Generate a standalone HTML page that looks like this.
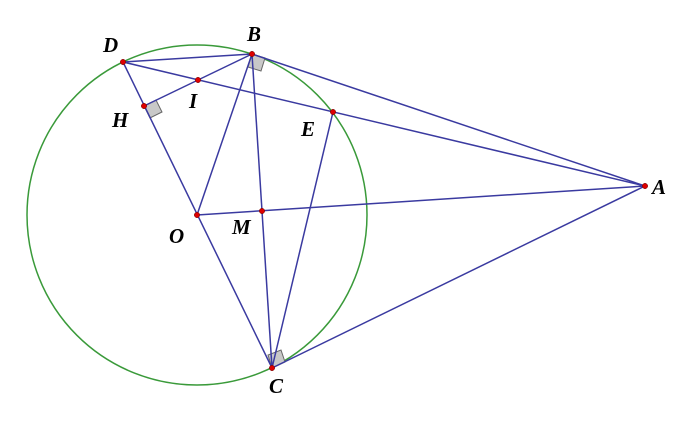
<!DOCTYPE html>
<html><head><style>body{margin:0;background:#fff}</style></head><body>
<svg width="700" height="421" xmlns="http://www.w3.org/2000/svg">
<circle cx="197" cy="215" r="170" fill="none" stroke="#3a9a3a" stroke-width="1.5"/>
<g fill="#c8c8c8" stroke="#666" stroke-width="1">
<polygon points="252,54 265,58 261,71 248,67"/>
<polygon points="144,106 156,100 162,112 150,118"/>
<polygon points="272,368 268,355 281,350 285,362"/>
</g>
<g stroke="#3a3aa0" stroke-width="1.5" fill="none">
<line x1="123" y1="62" x2="252" y2="54"/>
<line x1="123" y1="62" x2="645" y2="186"/>
<line x1="123" y1="62" x2="272" y2="368"/>
<line x1="252" y1="54" x2="645" y2="186"/>
<line x1="252" y1="54" x2="197" y2="215"/>
<line x1="252" y1="54" x2="272" y2="368"/>
<line x1="252" y1="54" x2="144" y2="106"/>
<line x1="197" y1="215" x2="645" y2="186"/>
<line x1="272" y1="368" x2="645" y2="186"/>
<line x1="272" y1="368" x2="333" y2="112"/>
</g>
<g fill="#d00" stroke="#600" stroke-width="0.5">
<circle cx="123" cy="62" r="2.7"/><circle cx="252" cy="54" r="2.7"/><circle cx="198" cy="80" r="2.7"/>
<circle cx="144" cy="106" r="2.7"/><circle cx="333" cy="112" r="2.7"/><circle cx="197" cy="215" r="2.7"/>
<circle cx="262" cy="211" r="2.7"/><circle cx="272" cy="368" r="2.7"/><circle cx="645" cy="186" r="2.7"/>
</g>
<g font-family="Liberation Serif" font-style="italic" font-weight="bold" font-size="21" fill="#000">
<text x="103" y="52">D</text><text x="247" y="41">B</text><text x="189" y="108">I</text>
<text x="112" y="127">H</text><text x="301" y="136">E</text><text x="652" y="194">A</text>
<text x="169" y="243">O</text><text x="232" y="234">M</text><text x="269" y="393">C</text>
</g>
</svg>
</body></html>
